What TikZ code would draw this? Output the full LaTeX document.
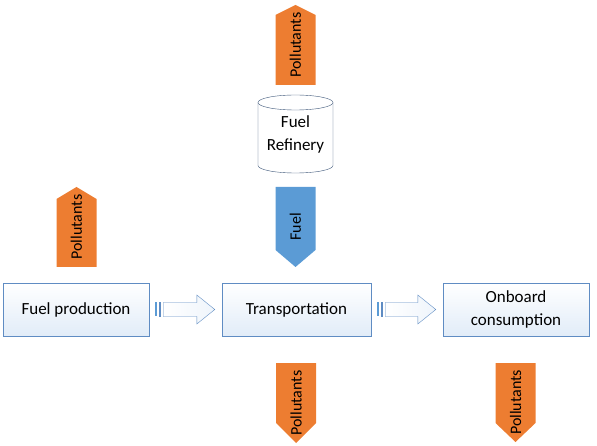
\documentclass[tikz,border=0pt]{standalone}
\usepackage{fontspec}
\setmainfont{Carlito}
\usetikzlibrary{calc}
\definecolor{pollut}{RGB}{237,125,49}
\definecolor{fuelblue}{RGB}{91,155,213}
\definecolor{boxline}{RGB}{95,140,195}
\definecolor{boxfill}{RGB}{225,236,248}
\definecolor{drum}{RGB}{60,85,120}
\tikzset{
	stage/.style={draw=boxline, thin, top color=white, bottom color=boxfill, minimum width=146pt, minimum height=53pt, align=center, inner sep=0pt, font=\fontsize{17}{22.5}\selectfont},
	tag/.style={rotate=90, inner sep=0pt, font=\fontsize{16}{18}\selectfont},
	hollow/.style={draw=boxline, thin, left color=white, right color=boxfill!55!white},
}
\begin{document}
\begin{tikzpicture}[x=1pt, y=-1pt]
				\useasboundingbox (0,0) rectangle (597,446);
				%process boxes
				\node at (76,309.5)[stage] (prod){Fuel production};
				\node at (296.5,309.5)[stage, minimum width=149pt] (trans){Transportation};
				\node at (516,309.5)[stage] (onboard){Onboard\\consumption};
				
				%striped block arrows between the boxes
				\foreach \a/\b in {prod/trans, trans/onboard}{
					\coordinate (s) at ($(\a.east)+(6,0)$);
					\coordinate (t) at ($(\b.west)+(-7,0)$);
					\fill[fuelblue] ($(s)+(0,-7)$) rectangle ($(s)+(2,7)$);
					\draw[boxline, thin] ($(s)+(3.5,-7)$) rectangle ($(s)+(5,7)$);
					\draw[hollow] ($(s)+(8,-7)$) -- ($(t)+(-18,-7)$) -- ($(t)+(-18,-14.5)$) -- (t)
						-- ($(t)+(-18,14.5)$) -- ($(t)+(-18,7)$) -- ($(s)+(8,7)$) -- cycle;
				}
				
				%refinery drum
				\draw[drum, fill=white] (258,102.5) -- (258,165.5)
					arc[start angle=180, end angle=360, x radius=37.5pt, y radius=7.5pt] -- (333,102.5);
				\draw[drum, fill=white] (295.5,102.5) ellipse[x radius=37.5pt, y radius=7.5pt];
				\node at (295.5,134.5)[align=center, font=\fontsize{17}{23}\selectfont] (refinery){Fuel\\Refinery};
				
				%pentagon arrows: centre x, base, shoulder, tip
				\foreach \x/\b/\s/\p/\c/\t/\n in {295.5/85/15/5/pollut/Pollutants/polA,
						76.5/267/199/187/pollut/Pollutants/polB,
						295.5/187/250/267/fuelblue/Fuel/fuel,
						296/363/423/443/pollut/Pollutants/polC,
						515.5/363/423/442/pollut/Pollutants/polD}{
					\fill[\c] (\x-20,\b) -- (\x-20,\s) -- (\x,\p) -- (\x+20,\s) -- (\x+20,\b) -- cycle;
					\node at (\x,{(\b+\p)/2})[tag] (\n){\t};
				}
			\end{tikzpicture}
\end{document}
